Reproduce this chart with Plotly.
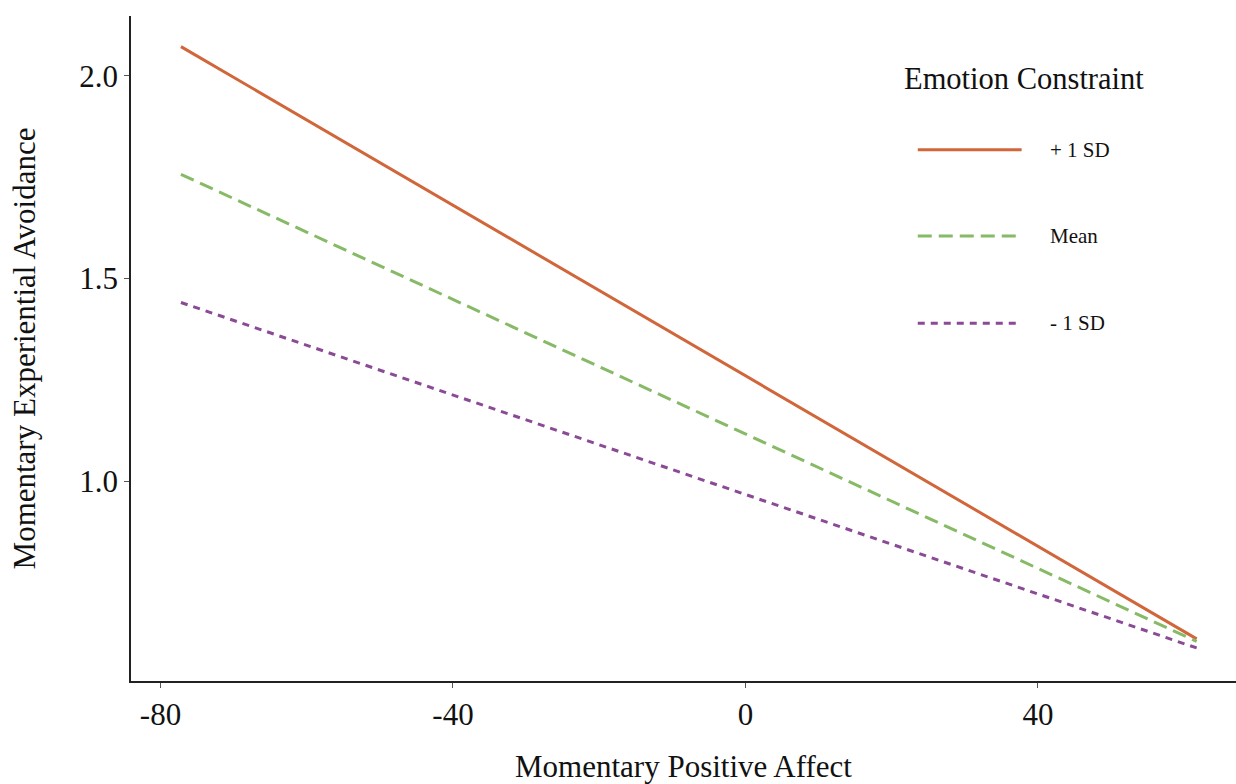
import plotly.graph_objects as go

# Simple slopes of momentary experiential avoidance on momentary positive affect
affect_range = [-77.2, 61.7]
series_names = ["+ 1 SD", "Mean", "- 1 SD"]
plus_sd = [2.072, 0.6115]
mean_line = [1.757, 0.605]
minus_sd = [1.441, 0.589]

x_ticks = [-80, -40, 0, 40]
y_ticks = [1.0, 1.5, 2.0]
y_tick_text = ["1.0", "1.5", "2.0"]

colors = ["#D0663A", "#86BA66", "#8A4A96"]
dashes = ["solid", "14px,7px", "7px,6px"]
values = [plus_sd, mean_line, minus_sd]

FONT = "Liberation Serif, Times New Roman, serif"
TXT = "#111111"

fig = go.Figure()
for name, ys, col, dash in zip(series_names, values, colors, dashes):
    fig.add_trace(go.Scatter(
        x=affect_range, y=ys, mode="lines", name=name,
        line=dict(color=col, width=3, dash=dash),
        showlegend=False,
    ))

# Hand-built legend on the right side
legend_x0 = 0.712
legend_ys = [0.799, 0.669, 0.538]
legend_ends = [0.806, 0.806, 0.801]
for name, col, dash, ly, lx1 in zip(series_names, colors, dashes, legend_ys, legend_ends):
    fig.add_shape(type="line", xref="paper", yref="paper",
                  x0=legend_x0, x1=lx1, y0=ly, y1=ly,
                  line=dict(color=col, width=3, dash=dash))
    fig.add_annotation(xref="paper", yref="paper", x=0.830, y=ly,
                       text=name, showarrow=False, xanchor="left", yanchor="middle",
                       font=dict(family=FONT, size=21, color=TXT))
fig.add_annotation(xref="paper", yref="paper", x=0.698, y=0.906,
                   text="Emotion Constraint", showarrow=False,
                   xanchor="left", yanchor="middle",
                   font=dict(family=FONT, size=30.5, color=TXT))

fig.update_layout(
    width=1236, height=784,
    margin=dict(l=131, r=0, t=16, b=101),
    paper_bgcolor="white", plot_bgcolor="white",
    font=dict(family=FONT, color=TXT),
)
fig.update_xaxes(
    range=[-84.03, 67.08], tickvals=x_ticks, ticktext=[str(v) for v in x_ticks],
    showgrid=False, zeroline=False, showline=True, linecolor="#222222", linewidth=1.5,
    ticks="outside", ticklen=5, tickwidth=1, tickcolor="#555555",
    tickfont=dict(family=FONT, size=31, color=TXT),
    title=dict(text="Momentary Positive Affect", standoff=30,
               font=dict(family=FONT, size=31, color=TXT)),
)
fig.update_yaxes(
    range=[0.5075, 2.1475], tickvals=y_ticks, ticktext=y_tick_text,
    showgrid=False, zeroline=False, showline=True, linecolor="#222222", linewidth=1.5,
    ticks="outside", ticklen=5, tickwidth=1, tickcolor="#555555",
    tickfont=dict(family=FONT, size=31, color=TXT),
    title=dict(text="Momentary Experiential Avoidance", standoff=34,
               font=dict(family=FONT, size=31, color=TXT)),
)

fig.write_html("out.html")
